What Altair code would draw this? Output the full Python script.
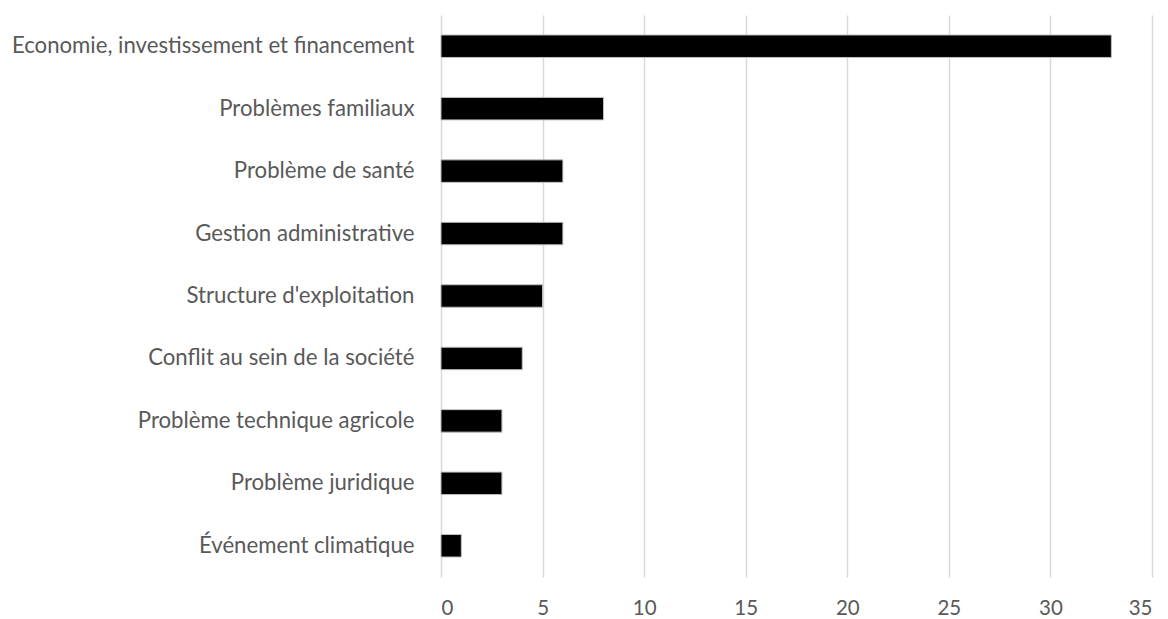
import altair as alt
import pandas as pd

categories = [
    "Economie, investissement et financement",
    "Problèmes familiaux",
    "Problème de santé",
    "Gestion administrative",
    "Structure d'exploitation",
    "Conflit au sein de la société",
    "Problème technique agricole",
    "Problème juridique",
    "Événement climatique",
]
counts = [33, 8, 6, 6, 5, 4, 3, 3, 1]
x_ticks = [0, 5, 10, 15, 20, 25, 30, 35]

df = pd.DataFrame({"cause": categories, "n": counts})

FONT = "Lato"
GREY = "#595959"

chart = (
    alt.Chart(df)
    .mark_bar(color="#000000", stroke="#bfbfbf", strokeWidth=1)
    .encode(
        x=alt.X(
            "n:Q",
            scale=alt.Scale(domain=[0, 35], nice=False),
            axis=alt.Axis(
                values=x_ticks,
                title=None,
                grid=True,
                gridColor="#d9d9d9",
                gridWidth=1.5,
                domain=False,
                ticks=False,
                labelPadding=21,
                labelFont=FONT,
                labelFontSize=20.5,
                labelColor=GREY,
            ),
        ),
        y=alt.Y(
            "cause:N",
            sort=categories,
            scale=alt.Scale(paddingInner=0.64, paddingOuter=0.32),
            axis=alt.Axis(
                title=None,
                domain=False,
                ticks=False,
                labelPadding=27,
                labelFont=FONT,
                labelFontSize=22.2,
                labelColor=GREY,
                labelLimit=0,
            ),
        ),
    )
    .properties(
        width=711,
        height=562,
        autosize=alt.AutoSizeParams(type="none"),
        padding={"left": 441, "top": 15, "right": 16, "bottom": 42},
    )
    .configure_view(stroke=None)
)

chart.save("out.html", embed_options={"renderer": "svg", "actions": False})
